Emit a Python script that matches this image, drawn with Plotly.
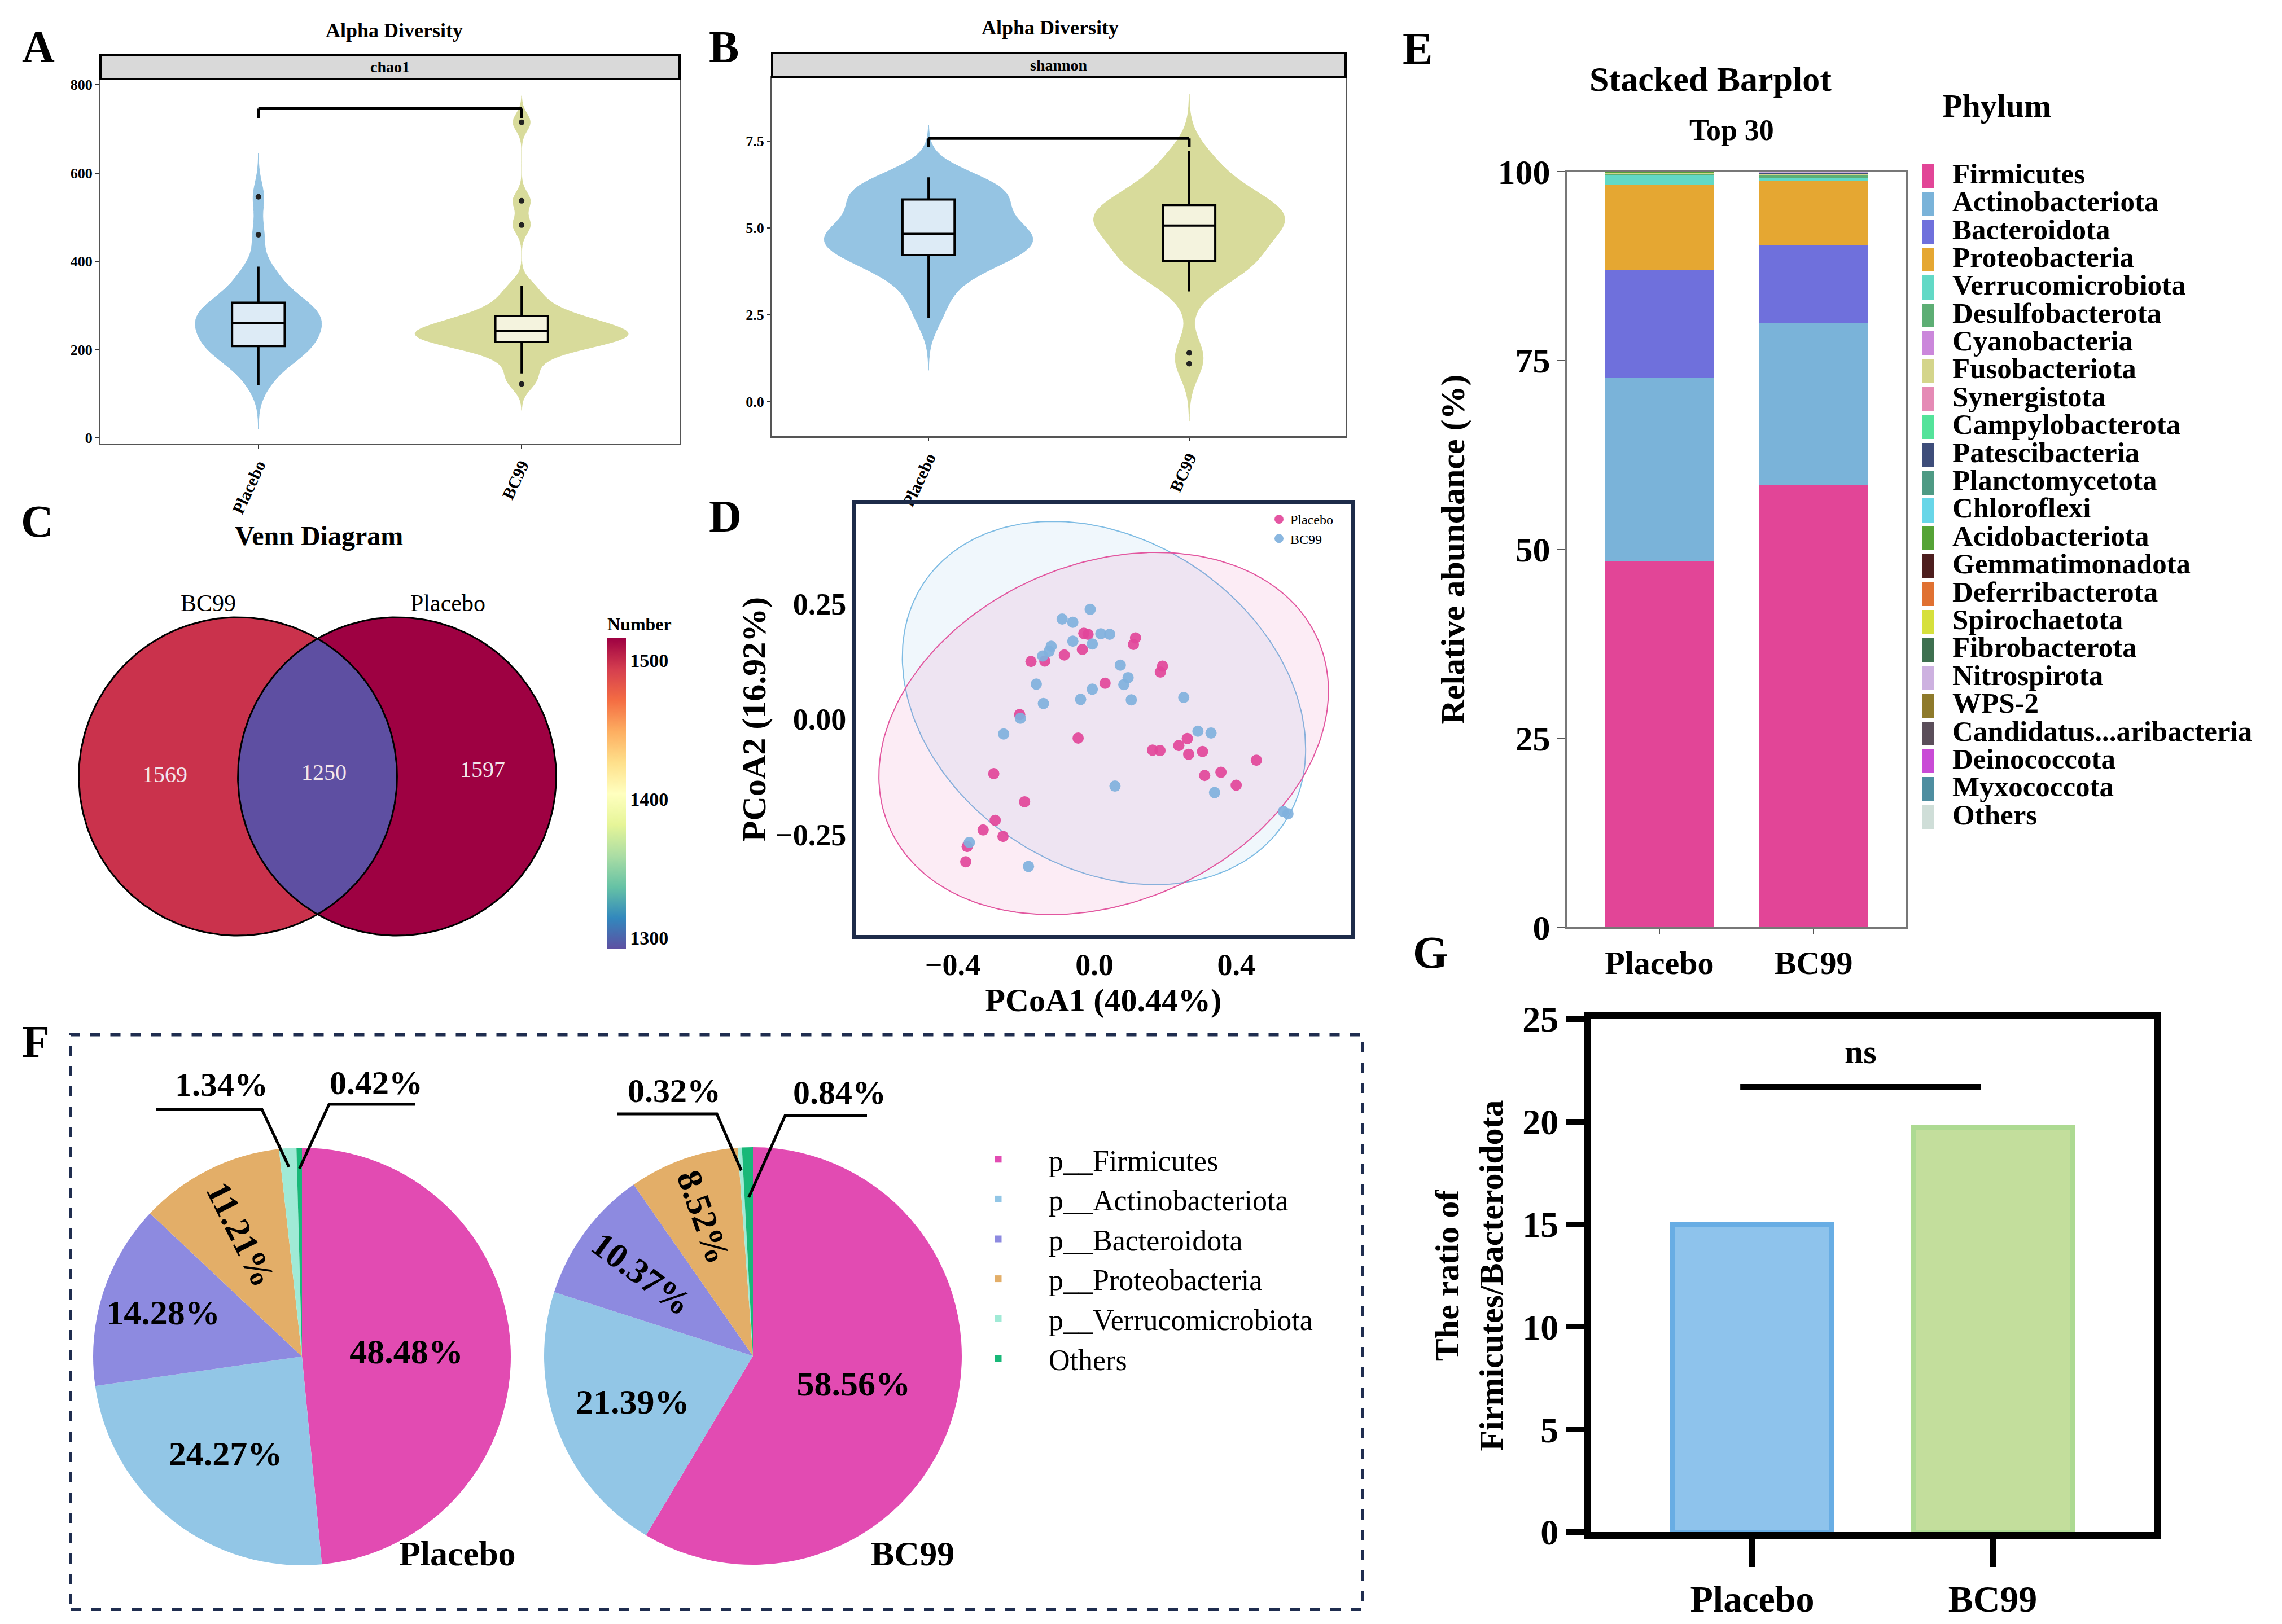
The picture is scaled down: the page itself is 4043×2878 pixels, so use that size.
import numpy as np
import plotly.graph_objects as go
from plotly.colors import sample_colorscale, diverging

W, H = 4043, 2878
SERIF = "Liberation Serif"

# ------------------------------------------------------------------ data
groups = ["Placebo", "BC99"]

# A: chao1 per sample
chao1_placebo = [119, 148, 168, 180, 190, 198, 204, 208, 212, 222, 232, 240, 248, 254, 258,
                 262, 268, 276, 284, 290, 296, 302, 306, 318, 332, 350, 368, 388, 460, 546]
chao1_bc99 = [122, 146, 172, 190, 202, 208, 213, 217, 219, 224, 228, 232, 236, 239, 240,
              243, 246, 250, 255, 262, 270, 274, 276, 290, 305, 320, 345, 482, 537, 715]
# B: shannon per sample
shannon_placebo = [2.40, 2.95, 3.40, 3.70, 3.95, 4.05, 4.15, 4.22, 4.30, 4.42, 4.52, 4.60, 4.68, 4.76, 4.81,
                   4.85, 4.92, 5.02, 5.15, 5.30, 5.50, 5.72, 5.82, 5.90, 6.00, 6.08, 6.16, 6.25, 6.35, 6.46]
shannon_bc99 = [1.09, 1.40, 3.17, 3.55, 3.80, 3.92, 4.00, 4.04, 4.12, 4.30, 4.50, 4.68, 4.82, 4.95, 5.04,
                5.10, 5.18, 5.26, 5.34, 5.42, 5.50, 5.60, 5.66, 5.78, 5.92, 6.08, 6.30, 6.55, 6.85, 7.21]

# C: Venn counts
venn_sets = ["BC99", "Placebo"]
venn_only_bc99 = 1569
venn_shared = 1250
venn_only_placebo = 1597
colorbar_range = [1292, 1516]
colorbar_ticks = [1300, 1400, 1500]

# D: PCoA coordinates
pcoa_placebo_x = [-0.179, -0.140, -0.085, -0.034, -0.030, -0.018, 0.030, 0.110, 0.116, 0.186, 0.192,
                  -0.211, -0.046, 0.164, 0.185, 0.238, 0.262, 0.266, 0.305, 0.311, 0.357, 0.400, 0.457,
                  -0.284, -0.197, -0.280, -0.314, -0.258, -0.359, -0.363]
pcoa_placebo_y = [0.125, 0.126, 0.139, 0.151, 0.186, 0.184, 0.078, 0.162, 0.176, 0.102, 0.115,
                  0.010, -0.041, -0.067, -0.068, -0.057, -0.042, -0.076, -0.070, -0.122, -0.115, -0.143, -0.089,
                  -0.118, -0.179, -0.219, -0.240, -0.254, -0.276, -0.309]
pcoa_bc99_x = [-0.091, -0.061, -0.012, 0.018, 0.043, -0.006, -0.061, -0.122, -0.128, -0.146, -0.164,
               -0.144, -0.039, -0.006, 0.073, 0.095, 0.083, 0.104, 0.252, -0.209, -0.256, 0.292, 0.329,
               0.058, 0.339, -0.353, -0.186, 0.533, 0.546]
pcoa_bc99_y = [0.217, 0.210, 0.238, 0.185, 0.184, 0.163, 0.169, 0.158, 0.147, 0.137, 0.076,
               0.034, 0.043, 0.065, 0.117, 0.090, 0.075, 0.042, 0.047, 0.002, -0.032, -0.026, -0.030,
               -0.145, -0.159, -0.267, -0.319, -0.200, -0.205]
pcoa_x_title = "PCoA1 (40.44%)"
pcoa_y_title = "PCoA2 (16.92%)"

# E: relative abundance (%) of phyla
phyla = ["Firmicutes", "Actinobacteriota", "Bacteroidota", "Proteobacteria", "Verrucomicrobiota",
         "Desulfobacterota", "Cyanobacteria", "Fusobacteriota", "Synergistota", "Campylobacterota",
         "Patescibacteria", "Planctomycetota", "Chloroflexi", "Acidobacteriota", "Gemmatimonadota",
         "Deferribacterota", "Spirochaetota", "Fibrobacterota", "Nitrospirota", "WPS-2",
         "Candidatus...aribacteria", "Deinococcota", "Myxococcota", "Others"]
abund_placebo = [48.48, 24.27, 14.28, 11.21, 1.34, 0.12, 0.06, 0.05, 0.03, 0.03, 0.02, 0.02, 0.01, 0.01,
                 0.01, 0.01, 0.01, 0.005, 0.005, 0.005, 0.005, 0.005, 0.005, 0.01]
abund_bc99 = [58.56, 21.39, 10.37, 8.52, 0.32, 0.35, 0.08, 0.06, 0.05, 0.04, 0.04, 0.03, 0.02, 0.02,
              0.02, 0.02, 0.02, 0.01, 0.01, 0.01, 0.01, 0.01, 0.01, 0.03]
phylum_colors = ["#E24597", "#7AB3D9", "#6F70DC", "#E5A732", "#62D9C6", "#5DAE74", "#CB87DB", "#D4D58B",
                 "#E58AB5", "#54E39A", "#3E4D7A", "#4E9A84", "#68D6E8", "#55A336", "#4D1E1E", "#E07132",
                 "#D6E03C", "#3E7050", "#CDB1E0", "#8E7A2B", "#5B4E5A", "#C94BD6", "#4E8EA0", "#CFDED8"]

# F: pie composition (%)
pie_labels = ["p__Firmicutes", "p__Actinobacteriota", "p__Bacteroidota", "p__Proteobacteria",
              "p__Verrucomicrobiota", "Others"]
pie_placebo = [48.48, 24.27, 14.28, 11.21, 1.34, 0.42]
pie_bc99 = [58.56, 21.39, 10.37, 8.52, 0.32, 0.84]
pie_colors = ["#E24BB2", "#92C6E6", "#8D8AE0", "#E3AE68", "#A0EAD6", "#18B878"]

# G: Firmicutes/Bacteroidota ratio
fb_ratio = [15.0, 19.7]


# ------------------------------------------------------------------ helpers
def px(x):
    return x / W


def py(y):
    return 1 - y / H


def xdom(a, b):
    return [a / W, b / W]


def ydom(top, bottom):
    return [1 - bottom / H, 1 - top / H]


def font(size, bold=True, color="black", family=SERIF):
    return dict(family=family, size=size, color=color, weight="bold" if bold else "normal")


def ann(text, x, y, size, bold=True, color="black", xref="paper", yref="paper", **kw):
    if xref == "paper":
        x = px(x)
    if yref == "paper":
        y = py(y)
    d = dict(text=text, x=x, y=y, xref=xref, yref=yref, showarrow=False,
             font=font(size, bold, color), xanchor="center", yanchor="middle")
    d.update(kw)
    return d


def kde_peak(vals, bw):
    v = np.asarray(vals, float)
    g = np.linspace(v.min() - 3 * bw, v.max() + 3 * bw, 1200)
    d = np.exp(-0.5 * ((g[:, None] - v[None, :]) / bw) ** 2).sum(1) / (len(v) * bw * np.sqrt(2 * np.pi))
    return d.max()


def conf_ellipse(xs, ys, level=0.95, n_pts=240):
    x = np.asarray(xs, float)
    y = np.asarray(ys, float)
    n = len(x)
    d2 = n - 1
    fq = d2 / 2 * ((1 - level) ** (-2 / d2) - 1)
    c = np.sqrt(2 * fq)
    L = np.linalg.cholesky(np.cov(x, y))
    t = np.linspace(0, 2 * np.pi, n_pts)
    pts = L @ np.vstack([np.cos(t), np.sin(t)]) * c
    return x.mean() + pts[0], y.mean() + pts[1]


fig = go.Figure()
annotations = []
shapes = []

# ------------------------------------------------------------------ A & B violins
violin_fill = ["#95C4E3", "#D8DB9B"]
box_fill = ["#DDEBF6", "#F4F3DE"]


def add_violin_panel(data, bws, xa, ya, max_w):
    peaks = [kde_peak(d, b) for d, b in zip(data, bws)]
    for i, (vals, bw) in enumerate(zip(data, bws)):
        fig.add_trace(go.Violin(
            x=[i] * len(vals), y=vals, xaxis=xa, yaxis=ya, showlegend=False,
            width=max_w * peaks[i] / max(peaks), scalemode="width",
            bandwidth=bw, spanmode="manual", span=[min(vals) - 3 * bw, max(vals) + 3 * bw],
            fillcolor=violin_fill[i], line=dict(color=violin_fill[i], width=1), opacity=1,
            points=False, box_visible=False, meanline_visible=False, hoverinfo="skip"))
    for i, vals in enumerate(data):
        fig.add_trace(go.Box(
            x=[i] * len(vals), y=vals, xaxis=xa, yaxis=ya, showlegend=False, width=0.2,
            quartilemethod="inclusive",
            fillcolor=box_fill[i], line=dict(color="black", width=4), whiskerwidth=0,
            boxpoints="outliers", pointpos=0, jitter=0,
            marker=dict(color="#222222", size=10), hoverinfo="skip"))


add_violin_panel([chao1_placebo, chao1_bc99], [33, 20], "x", "y", 0.81)
add_violin_panel([shannon_placebo, shannon_bc99], [0.5, 0.55], "x2", "y2", 0.80)

violin_axis_common = dict(showgrid=False, zeroline=False, showline=True, linecolor="#555555", linewidth=3,
                          mirror=True, ticks="outside", ticklen=6, tickcolor="#333333", tickwidth=2)

# strips, brackets, titles
for (x0, x1, t0, t1, txt, title_x, title_y) in [(170, 1196, 90, 132, "chao1", 690, 46),
                                                (1360, 2376, 86, 129, "shannon", 1852, 41)]:
    shapes.append(dict(type="rect", xref="paper", yref="paper", x0=px(x0), x1=px(x1), y0=py(t1), y1=py(t0),
                       fillcolor="#D9D9D9", line=dict(color="black", width=4), layer="above"))
    annotations.append(ann(txt, (x0 + x1) / 2, (t0 + t1) / 2, 28))
    annotations.append(ann("Alpha Diversity", title_x, title_y, 36))

for xa, ya, ytop, ylow in [("x", "y", 746, 724), ("x2", "y2", 7.58, 7.34)]:
    ln = dict(color="black", width=5)
    shapes.append(dict(type="line", xref=xa, yref=ya, x0=0, x1=1, y0=ytop, y1=ytop, line=ln))
    shapes.append(dict(type="line", xref=xa, yref=ya, x0=0, x1=0, y0=ylow, y1=ytop, line=ln))
    shapes.append(dict(type="line", xref=xa, yref=ya, x0=1, x1=1, y0=ylow, y1=ytop, line=ln))

# ------------------------------------------------------------------ C Venn
venn_values = [venn_only_bc99, venn_shared, venn_only_placebo]
spectral = diverging.Spectral[::-1]
vmin, vmax = min(venn_values), max(venn_values)


def venn_color(v):
    return sample_colorscale(spectral, [(v - vmin) / (vmax - vmin)])[0]


R = 1.0
centers = [(-0.5, 0.0), (0.5, 0.0)]
t = np.linspace(0, 2 * np.pi, 300)
for (cx, cy), v in zip(centers, [venn_only_bc99, venn_only_placebo]):
    fig.add_trace(go.Scatter(x=cx + R * np.cos(t), y=cy + R * np.sin(t), xaxis="x3", yaxis="y3",
                             mode="lines", fill="toself", fillcolor=venn_color(v),
                             line=dict(width=0), showlegend=False, hoverinfo="skip"))
d = centers[1][0] - centers[0][0]
a = np.arccos(d / (2 * R))
ta = np.linspace(-a, a, 120)
tb = np.linspace(np.pi - a, np.pi + a, 120)
lens_x = np.concatenate([centers[0][0] + R * np.cos(ta), centers[1][0] + R * np.cos(tb)])
lens_y = np.concatenate([centers[0][1] + R * np.sin(ta), centers[1][1] + R * np.sin(tb)])
fig.add_trace(go.Scatter(x=lens_x, y=lens_y, xaxis="x3", yaxis="y3", mode="lines", fill="toself",
                         fillcolor=venn_color(venn_shared), line=dict(width=0),
                         showlegend=False, hoverinfo="skip"))
for (cx, cy) in centers:
    fig.add_trace(go.Scatter(x=cx + R * np.cos(t), y=cy + R * np.sin(t), xaxis="x3", yaxis="y3",
                             mode="lines", line=dict(color="black", width=3),
                             showlegend=False, hoverinfo="skip"))
# colour bar
fig.add_trace(go.Scatter(
    x=[0], y=[0], xaxis="x3", yaxis="y3", mode="markers", showlegend=False, hoverinfo="skip",
    marker=dict(size=1, opacity=0, color=[venn_shared], colorscale=spectral,
                cmin=colorbar_range[0], cmax=colorbar_range[1], showscale=True,
                colorbar=dict(x=px(1068), xanchor="left", y=py(1378), yanchor="middle",
                              len=592, lenmode="pixels", thickness=33, thicknessmode="pixels",
                              outlinewidth=0, ticks="", tickvals=colorbar_ticks, xpad=0, ypad=0,
                              tickfont=font(34), title=dict(text="Number", side="top", font=font(32))))))

annotations.append(ann("Venn Diagram", 557, 942, 48))
annotations.append(ann(venn_sets[0], -0.686, 1.089, 42, bold=False, xref="x3", yref="y3"))
annotations.append(ann(venn_sets[1], 0.821, 1.089, 42, bold=False, xref="x3", yref="y3"))
for txt, x, y in [(venn_only_bc99, -0.959, 0.014), (venn_shared, 0.04, 0.025), (venn_only_placebo, 1.037, 0.043)]:
    annotations.append(ann(str(txt), x, y, 40, bold=False, color="#F2E6EA", xref="x3", yref="y3"))

# ------------------------------------------------------------------ D PCoA
pcoa_colors = ["#E2479A", "#80B1DD"]
ell_fill = ["rgba(226,71,154,0.10)", "rgba(121,185,230,0.11)"]
ell_line = ["#E2569F", "#7DBBE3"]
pcoa_sets = [(pcoa_placebo_x, pcoa_placebo_y), (pcoa_bc99_x, pcoa_bc99_y)]
for i in [1, 0]:
    ex, ey = conf_ellipse(*pcoa_sets[i])
    fig.add_trace(go.Scatter(x=ex, y=ey, xaxis="x4", yaxis="y4", mode="lines", fill="toself",
                             fillcolor=ell_fill[i], line=dict(color=ell_line[i], width=2),
                             showlegend=False, hoverinfo="skip"))
for i, g in enumerate(groups):
    fig.add_trace(go.Scatter(x=pcoa_sets[i][0], y=pcoa_sets[i][1], xaxis="x4", yaxis="y4", mode="markers",
                             name=g, legend="legend3",
                             marker=dict(color=pcoa_colors[i], size=20, opacity=0.92)))

# ------------------------------------------------------------------ E stacked bars
for i, ph in enumerate(phyla):
    fig.add_trace(go.Bar(x=[0, 1], y=[abund_placebo[i], abund_bc99[i]], xaxis="x5", yaxis="y5",
                         name=ph, marker=dict(color=phylum_colors[i], line=dict(width=0)),
                         width=0.71, showlegend=False, hoverinfo="name+y"))
annotations.append(ann("Stacked Barplot", 3022, 132, 62))
annotations.append(ann("Top 30", 3060, 223, 52))

# key for the phyla (colour swatch + name per phylum, on its own axes)
rows = list(range(len(phyla)))
fig.add_trace(go.Bar(y=rows, x=[21] * len(phyla), base=[0] * len(phyla), orientation="h",
                     xaxis="x7", yaxis="y7", width=0.86, showlegend=False, hoverinfo="skip",
                     marker=dict(color=phylum_colors, line=dict(width=0))))
fig.add_trace(go.Scatter(y=rows, x=[54] * len(phyla), mode="text", text=phyla, textposition="middle right",
                         textfont=font(51), xaxis="x7", yaxis="y7", showlegend=False, hoverinfo="skip"))
annotations.append(ann("Phylum", 3529, 179, 58))

# ------------------------------------------------------------------ F pies
PIE_CENTERS = [(527, 2396), (1326, 2395)]
PIE_R = 370
for k, (vals, (cx, cy)) in enumerate(zip([pie_placebo, pie_bc99], PIE_CENTERS)):
    fig.add_trace(go.Pie(
        labels=pie_labels, values=vals, sort=False, direction="clockwise", rotation=0,
        domain=dict(x=xdom(cx - PIE_R, cx + PIE_R), y=ydom(cy - PIE_R, cy + PIE_R)),
        marker=dict(colors=pie_colors, line=dict(width=0)),
        text=[f"{v:.2f}%" if v >= 5 else "" for v in vals], textinfo="text", textposition="inside",
        insidetextorientation="auto", insidetextfont=font(62), hoverinfo="skip",
        legend="legend2", showlegend=(k == 0)))

annotations.append(ann(groups[0], 802, 2745, 62))
annotations.append(ann(groups[1], 1609, 2745, 62))

# small-slice labels with leader lines (slice angle from data)
small_labels = [
    # pie index, slice index, text centre x,y, far x, knee x, line y, radial fraction
    (0, 4, 384, 1914, 269, 456, 1958, 0.91),
    (0, 5, 658, 1911, 727, 575, 1949, 0.90),
    (1, 4, 1186, 1925, 1086, 1262, 1966, 0.89),
    (1, 5, 1479, 1928, 1528, 1383, 1969, 0.76),
]
pie_data = [pie_placebo, pie_bc99]
for (pi, si, tx, ty, fx, kx, ly, rf) in small_labels:
    vals = pie_data[pi]
    frac = (sum(vals[:si]) + vals[si] / 2) / sum(vals)
    ang = 2 * np.pi * frac
    cx, cy = PIE_CENTERS[pi]
    ex = cx + PIE_R * rf * np.sin(ang)
    ey = cy - PIE_R * rf * np.cos(ang)
    shapes.append(dict(type="path", xref="paper", yref="paper",
                       path=f"M{px(fx)},{py(ly)} L{px(kx)},{py(ly)} L{px(ex)},{py(ey)}",
                       line=dict(color="black", width=5)))
    annotations.append(ann(f"{vals[si]:.2f}%", tx, ty, 60))

shapes.append(dict(type="rect", xref="paper", yref="paper", x0=px(117), x1=px(2406), y0=py(2844), y1=py(1825.5),
                   line=dict(color="#1F2D4F", width=6, dash="dash"), fillcolor="rgba(0,0,0,0)"))

# ------------------------------------------------------------------ G ratio bars
fig.add_trace(go.Bar(x=[0, 1], y=fb_ratio, xaxis="x6", yaxis="y6", width=0.66, showlegend=False,
                     marker=dict(color=["#8EC3EC", "#C3DE9C"], line=dict(color=["#68ADE4", "#ADDA92"], width=9)),
                     hoverinfo="skip"))
shapes.append(dict(type="line", xref="x6", yref="y6", x0=-0.05, x1=0.95, y0=21.7, y1=21.7,
                   line=dict(color="black", width=10)))
annotations.append(ann("ns", 0.45, 23.4, 60, xref="x6", yref="y6"))

# ------------------------------------------------------------------ panel letters
for letter, x, y in [("A", 60, 75), ("B", 1274, 75), ("C", 58, 916), ("D", 1277, 907),
                     ("E", 2503, 78), ("F", 55, 1838), ("G", 2526, 1680)]:
    annotations.append(ann(letter, x, y, 80))

# ------------------------------------------------------------------ layout
fig.update_layout(
    width=W, height=H, margin=dict(l=0, r=0, t=0, b=0, autoexpand=False),
    paper_bgcolor="white", plot_bgcolor="white", barmode="stack", showlegend=True,
    font=dict(family=SERIF, color="black"),
    xaxis=dict(domain=xdom(170, 1196), anchor="y", range=[-0.6, 1.6], tickvals=[0, 1], ticktext=groups,
               tickangle=-65, tickfont=font(30), **violin_axis_common),
    yaxis=dict(domain=ydom(132, 778), anchor="x", range=[-13, 813], tickvals=[0, 200, 400, 600, 800],
               tickfont=font(26), **violin_axis_common),
    xaxis2=dict(domain=xdom(1360, 2376), anchor="y2", range=[-0.6, 1.6], tickvals=[0, 1], ticktext=groups,
                tickangle=-65, tickfont=font(30), **violin_axis_common),
    yaxis2=dict(domain=ydom(129, 765), anchor="x2", range=[-1.0, 9.34], tickvals=[0, 2.5, 5, 7.5],
                tickformat=".1f", tickfont=font(26), **violin_axis_common),
    xaxis3=dict(domain=xdom(103.5, 1005.5), anchor="y3", range=[-1.6, 1.6], visible=False),
    yaxis3=dict(domain=ydom(1029.5, 1706.5), anchor="x3", range=[-1.2, 1.2], visible=False),
    xaxis4=dict(domain=xdom(1509, 2385), anchor="y4", range=[-0.672, 0.723], tickvals=[-0.4, 0, 0.4],
                tickformat=".1f", showgrid=False, zeroline=False, showline=True, linecolor="#1D2B49",
                linewidth=7, mirror=True, ticks="", tickfont=font(54),
                title=dict(text=pcoa_x_title, font=font(58), standoff=10)),
    yaxis4=dict(domain=ydom(884.5, 1648.5), anchor="x4", range=[-0.467, 0.467], tickvals=[-0.25, 0, 0.25],
                tickformat=".2f", showgrid=False, zeroline=False, showline=True, linecolor="#1D2B49",
                linewidth=7, mirror=True, ticks="", tickfont=font(54),
                title=dict(text=pcoa_y_title, font=font(60), standoff=0)),
    xaxis5=dict(domain=xdom(2768, 3369), anchor="y5", range=[-0.6, 1.6], tickvals=[0, 1], ticktext=groups,
                showgrid=False, zeroline=False, showline=True, linecolor="#777777", linewidth=3, mirror=True,
                ticks="outside", ticklen=10, tickwidth=2, tickcolor="#555555", tickfont=font(58)),
    yaxis5=dict(domain=ydom(296, 1635), anchor="x5", range=[0, 100], tickvals=[0, 25, 50, 75, 100],
                showgrid=False, zeroline=False, showline=True, linecolor="#777777", linewidth=3, mirror=True,
                ticks="outside", ticklen=14, tickwidth=2, tickcolor="#555555", tickfont=font(62),
                title=dict(text="Relative abundance (%)", font=font(60), standoff=40)),
    xaxis6=dict(domain=xdom(2811, 3808), anchor="y6", range=[-0.67, 1.67], tickvals=[0, 1], ticktext=groups,
                showgrid=False, zeroline=False, showline=True, linecolor="black", linewidth=12, mirror=True,
                ticks="outside", ticklen=50, tickwidth=10, tickcolor="black", tickfont=font(66)),
    yaxis6=dict(domain=ydom(1798, 2707), anchor="x6", range=[0, 25], dtick=5,
                showgrid=False, zeroline=False, showline=True, linecolor="black", linewidth=12, mirror=True,
                ticks="outside", ticklen=33, tickwidth=10, tickcolor="black", tickfont=font(64),
                title=dict(text="The ratio of<br>Firmicutes/Bacteroidota", font=font(60), standoff=20)),
    xaxis7=dict(domain=xdom(3397, 4043), anchor="y7", range=[0, 646], visible=False, fixedrange=True),
    yaxis7=dict(domain=ydom(304 - 24.7, 1440 + 24.7), anchor="x7", range=[len(phyla) - 0.5, -0.5],
                visible=False, fixedrange=True),
    legend2=dict(x=px(1671), y=py(2006), xanchor="left", yanchor="top", traceorder="normal",
                 font=font(52, bold=False), bgcolor="rgba(0,0,0,0)", itemwidth=169),
    legend3=dict(x=px(2238), y=py(890), xanchor="left", yanchor="top",
                 font=font(24, bold=False), bgcolor="rgba(0,0,0,0)", tracegroupgap=0),
    annotations=annotations, shapes=shapes,
)

fig.write_html("out.html")
